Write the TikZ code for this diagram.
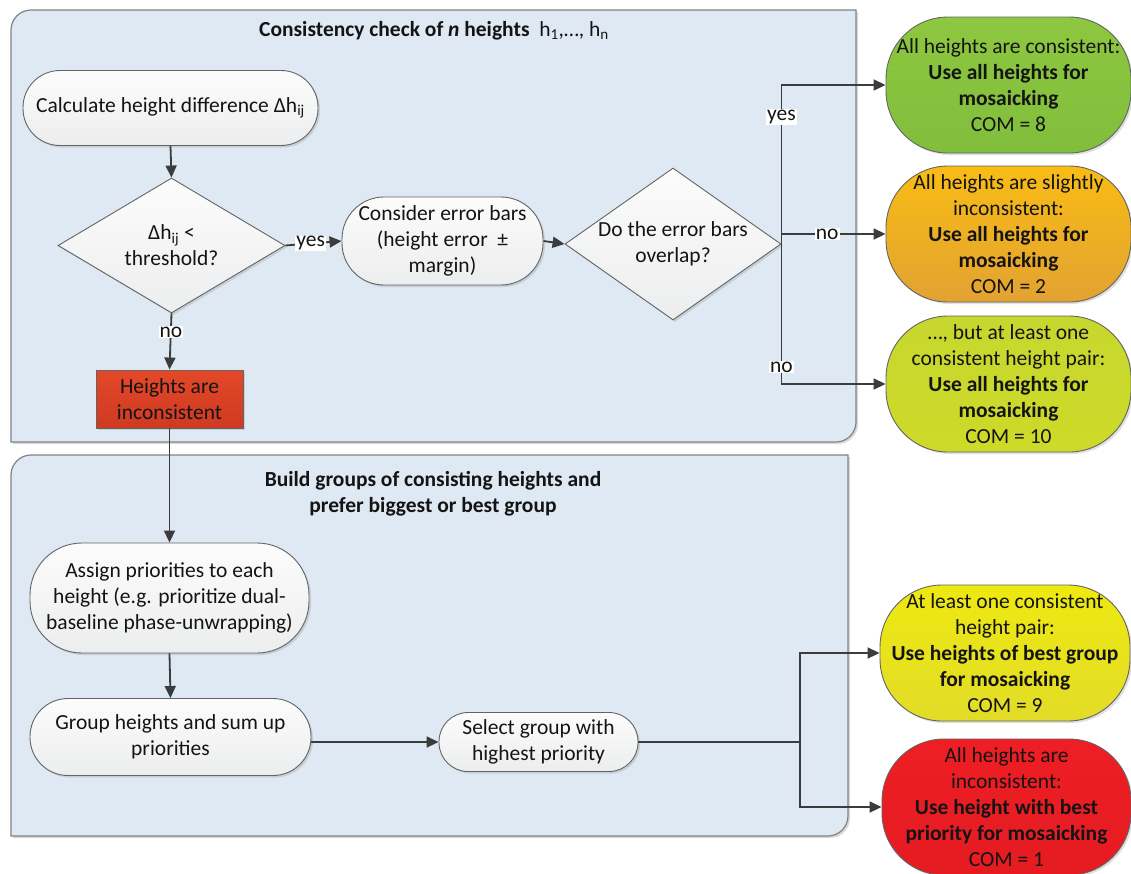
\documentclass[tikz,border=0pt]{standalone}
\usepackage{fontspec}
\setmainfont{Carlito}
\usetikzlibrary{shapes.geometric,arrows.meta,shadows}
\definecolor{panel}{RGB}{222,233,243}
\definecolor{panelline}{RGB}{130,130,130}
\definecolor{lin}{RGB}{60,60,60}
\definecolor{txt}{RGB}{20,20,20}
\definecolor{nodeline}{RGB}{100,100,100}
\definecolor{pilltop}{RGB}{252,252,252}
\definecolor{pillbot}{RGB}{236,237,238}
\definecolor{greentop}{RGB}{142,199,64}
\definecolor{greenbot}{RGB}{128,190,60}
\definecolor{orangetop}{RGB}{249,188,20}
\definecolor{orangebot}{RGB}{226,162,50}
\definecolor{ygtop}{RGB}{198,215,46}
\definecolor{ygbot}{RGB}{206,218,40}
\definecolor{yeltop}{RGB}{238,233,16}
\definecolor{yelbot}{RGB}{226,220,40}
\definecolor{redtop}{RGB}{238,30,36}
\definecolor{redbot}{RGB}{228,28,34}
\definecolor{hboxtop}{RGB}{228,72,40}
\definecolor{hboxbot}{RGB}{206,58,34}
\begin{document}
\begin{tikzpicture}[x=1pt,y=-1pt,
  base/.style={font=\fontsize{21.5}{26}\selectfont, text=txt, align=center, inner sep=2pt},
  shad/.style={drop shadow={shadow xshift=2pt,shadow yshift=-2pt,opacity=0.25}},
  pill/.style={base, shad, draw=nodeline, line width=0.9pt, top color=pilltop, bottom color=pillbot},
  dia/.style={base, shad, diamond, draw=nodeline, line width=0.9pt, top color=pilltop, bottom color=pillbot, inner sep=0pt},
  hboxst/.style={base, shad, rectangle, draw=nodeline, line width=0.9pt, top color=hboxtop, bottom color=hboxbot},
  outnode/.style={base, shad, draw=nodeline, line width=0.9pt, rounded corners=62pt, minimum width=245pt, minimum height=136pt},
  conn/.style={draw=lin, line width=1.8pt, -{Triangle[length=12pt,width=11pt]}},
  plain/.style={draw=lin, line width=1.8pt},
  lab/.style={base, fill=white, inner sep=1pt}
]
\useasboundingbox (0,0) rectangle (1131,873);
% panels
\fill[black, opacity=0.15] (13,444) -- (13,32) .. controls (13,21) and (22,12) .. (33,12) -- (858,12) -- (858,424) .. controls (858,435) and (849,444) .. (838,444) -- cycle;
\draw[panelline, fill=panel, line width=1.2pt] (11,442) -- (11,30) .. controls (11,19) and (20,10) .. (31,10) -- (856,10) -- (856,422) .. controls (856,433) and (847,442) .. (836,442) -- cycle;
\fill[black, opacity=0.15] (13,838) -- (13,477) .. controls (13,466) and (22,457) .. (33,457) -- (850,457) -- (850,818) .. controls (850,829) and (841,838) .. (830,838) -- cycle;
\draw[panelline, fill=panel, line width=1.2pt] (11,836) -- (11,475) .. controls (11,464) and (20,455) .. (31,455) -- (848,455) -- (848,816) .. controls (848,827) and (839,836) .. (828,836) -- cycle;
% titles
\node[base] (t1) at (434,31) {\textbf{Consistency check of \textit{n} heights}~ h\textsubscript{1},…, h\textsubscript{n}};
\node[base] (t2) at (433,494) {\textbf{Build groups of consisting heights and}\\\textbf{prefer biggest or best group}};
% upper nodes
\node[pill, rounded corners=37pt, minimum width=295pt, minimum height=75pt] (calc) at (170.5,108) {Calculate height difference Δh\textsubscript{ij}};
\node[dia, aspect=1.68, minimum width=227pt, minimum height=135pt] (d1) at (171.5,245.5) {Δh\textsubscript{ij} <\\threshold?};
\node[pill, rounded corners=42pt, minimum width=201pt, minimum height=88pt] (cons) at (442.5,241) {Consider error bars\\(height error~ ±\\margin)};
\node[dia, aspect=1.42, minimum width=216pt, minimum height=152pt] (d2) at (673,244) {Do the error bars\\overlap?};
\node[hboxst, minimum width=147pt, minimum height=58pt] (inc) at (169.5,399) {Heights are\\inconsistent};
% lower nodes
\node[pill, rounded corners=52pt, minimum width=279pt, minimum height=110pt] (assign) at (169.5,598) {Assign priorities to each\\height (e.g. prioritize dual-\\baseline phase-unwrapping)};
\node[pill, rounded corners=38pt, minimum width=281pt, minimum height=77pt] (group) at (170.5,737) {Group heights and sum up\\priorities};
\node[pill, rounded corners=29pt, minimum width=199pt, minimum height=59pt] (select) at (538.5,742) {Select group with\\highest priority};
% outcome nodes
\node[outnode, top color=greentop, bottom color=greenbot] (ok) at (1008.5,85) {All heights are consistent:\\\textbf{Use all heights for}\\\textbf{mosaicking}\\COM = 8};
\node[outnode, top color=orangetop, bottom color=orangebot] (slight) at (1008.5,234) {All heights are slightly\\inconsistent:\\\textbf{Use all heights for}\\\textbf{mosaicking}\\COM = 2};
\node[outnode, top color=ygtop, bottom color=ygbot] (pair) at (1008.5,384) {…, but at least one\\consistent height pair:\\\textbf{Use all heights for}\\\textbf{mosaicking}\\COM = 10};
\node[outnode, minimum width=250pt, top color=yeltop, bottom color=yelbot] (best) at (1005,653) {At least one consistent\\height pair:\\\textbf{Use heights of best group}\\\textbf{for mosaicking}\\COM = 9};
\node[outnode, minimum width=249pt, top color=redtop, bottom color=redbot] (incons) at (1006.5,807) {All heights are\\inconsistent:\\\textbf{Use height with best}\\\textbf{priority for mosaicking}\\COM = 1};
% connectors
\draw[conn] (calc.south) -- (d1.north);
\draw[conn] (d1.east) -- node[lab, pos=0.45] {yes} (cons.west);
\draw[conn] (d1.south) -- node[lab, pos=0.33] {no} (inc.north);
\draw[conn] (cons.east) -- (d2.west);
\draw[conn] (d2.east) |- node[lab, pos=0.4] {yes} (ok.west);
\draw[conn] (d2.east) |- node[lab, pos=0.44] {no} (pair.west);
\draw[conn] (d2.east |- slight.west) -- node[lab, pos=0.44] {no} (slight.west);
\draw[conn] (inc.south) -- (assign.north);
\draw[conn] (assign.south) -- (group.north);
\draw[conn] (group.east |- select.west) -- (select.west);
\coordinate (j) at (800,742);
\draw[plain] (select.east) -- (j);
\draw[conn] (j) |- (best.west);
\draw[conn] (j) |- (incons.west);
\end{tikzpicture}
\end{document}
